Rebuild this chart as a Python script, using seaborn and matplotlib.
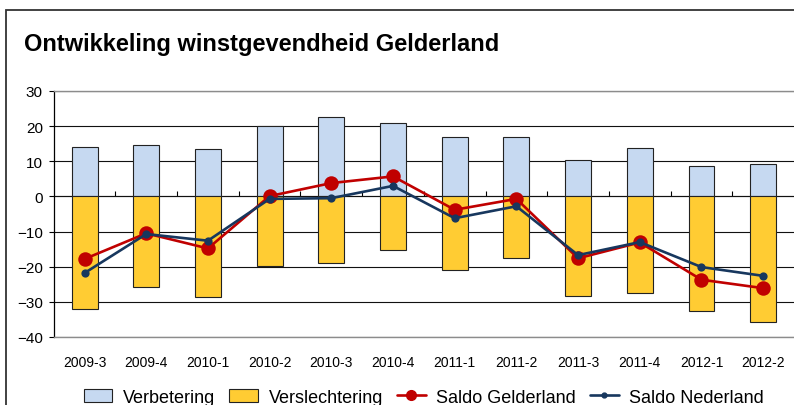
import numpy as np
import pandas as pd
import seaborn as sns
import matplotlib.pyplot as plt
from matplotlib.patches import Rectangle, Patch
from matplotlib.lines import Line2D

quarters = ['2009-3', '2009-4', '2010-1', '2010-2', '2010-3', '2010-4',
            '2011-1', '2011-2', '2011-3', '2011-4', '2012-1', '2012-2']
verbetering = [14.2, 14.7, 13.4, 19.9, 22.7, 20.8, 16.8, 16.8, 10.5, 13.7, 8.7, 9.2]
verslechtering = [-32.0, -25.9, -28.7, -19.9, -19.0, -15.2, -20.8, -17.6, -28.4, -27.5, -32.7, -35.6]
saldo_gelderland = [-17.8, -10.5, -14.8, 0.1, 3.8, 5.7, -3.8, -0.7, -17.6, -13.1, -23.7, -26.1]
saldo_nederland = [-21.8, -10.7, -12.6, -0.7, -0.5, 3.0, -6.2, -2.8, -16.7, -13.0, -20.1, -22.6]

df = pd.DataFrame({'kwartaal': quarters,
                   'Verbetering': verbetering,
                   'Verslechtering': verslechtering,
                   'Saldo Gelderland': saldo_gelderland,
                   'Saldo Nederland': saldo_nederland})

sns.set_style('white')
plt.rcParams['font.family'] = ['Liberation Sans', 'DejaVu Sans']
plt.rcParams['text.color'] = 'black'
plt.rcParams['xtick.color'] = 'black'
plt.rcParams['ytick.color'] = 'black'

c_up = '#C6D9F1'
c_down = '#FFCC33'
c_gld = '#C00000'
c_nl = '#17375E'

fig = plt.figure(figsize=(7.94, 4.06), dpi=100)
ax = fig.add_axes([53.7 / 794, 1 - 338 / 406, 1 - 53.7 / 794, 246 / 406])

sns.barplot(data=df, x='kwartaal', y='Verbetering', color=c_up, saturation=1,
            width=0.42, edgecolor='#222222', linewidth=0.8, ax=ax, zorder=2)
sns.barplot(data=df, x='kwartaal', y='Verslechtering', color=c_down, saturation=1,
            width=0.42, edgecolor='#222222', linewidth=0.8, ax=ax, zorder=2)
sns.pointplot(data=df, x='kwartaal', y='Saldo Gelderland', color=c_gld, markers='o',
              markersize=9, linewidth=1.9, errorbar=None, ax=ax, zorder=5)
sns.pointplot(data=df, x='kwartaal', y='Saldo Nederland', color=c_nl, markers='o',
              markersize=4.5, linewidth=1.9, errorbar=None, ax=ax, zorder=6)

ax.set_xlim(-0.5, len(quarters) - 0.5)
ax.set_ylim(-40, 30)
ax.set_yticks(np.arange(-40, 31, 10))
ax.set_xlabel('')
ax.set_ylabel('')
ax.set_axisbelow(True)
ax.yaxis.grid(True, color='#111111', linewidth=0.8)
ax.xaxis.grid(False)

for s in ['top', 'bottom']:
    ax.spines[s].set_color('#8c8c8c')
    ax.spines[s].set_linewidth(1.0)
ax.spines['right'].set_visible(False)
ax.spines['left'].set_color('black')
ax.spines['left'].set_linewidth(0.9)

ax.tick_params(axis='y', direction='out', length=3.8, width=0.8, color='black',
               labelcolor='black', labelsize=11, pad=4, left=True)
ax.tick_params(axis='x', length=0, pad=13, labelsize=10, labelcolor='black')

# zero line with category separators
zero = ax.secondary_xaxis(40 / 70)
zero.set_xticks(np.arange(0.5, len(quarters) - 1, 1))
zero.tick_params(direction='out', length=3.8, width=0.8, color='black', labelbottom=False)
zero.set_xticklabels([])
zero.spines['bottom'].set_color('black')
zero.spines['bottom'].set_linewidth(1.0)

handles = [Patch(facecolor=c_up, edgecolor='#222222', linewidth=0.8),
           Patch(facecolor=c_down, edgecolor='#222222', linewidth=0.8),
           Line2D([], [], color=c_gld, lw=1.9, marker='o', markersize=7),
           Line2D([], [], color=c_nl, lw=1.9, marker='o', markersize=3.5)]
labels = ['Verbetering', 'Verslechtering', 'Saldo Gelderland', 'Saldo Nederland']
ax.legend(handles, labels, loc='center', bbox_to_anchor=(0.5, -0.245), ncol=4,
          frameon=False, fontsize=13, handlelength=1.6, handletextpad=0.6,
          columnspacing=0.75, borderpad=0, borderaxespad=0, labelcolor='black')

fig.text(24 / 794, 1 - 45 / 406, 'Ontwikkeling winstgevendheid Gelderland',
         fontsize=17, fontweight='bold', ha='left', va='center', color='black')

fig.patches.append(Rectangle((6 / 794, -0.1), 1.2, 1 - 11 / 406 + 0.1,
                             transform=fig.transFigure, fill=False,
                             edgecolor='#333333', linewidth=1.3, zorder=10))

fig.savefig('out.png', dpi=100)
